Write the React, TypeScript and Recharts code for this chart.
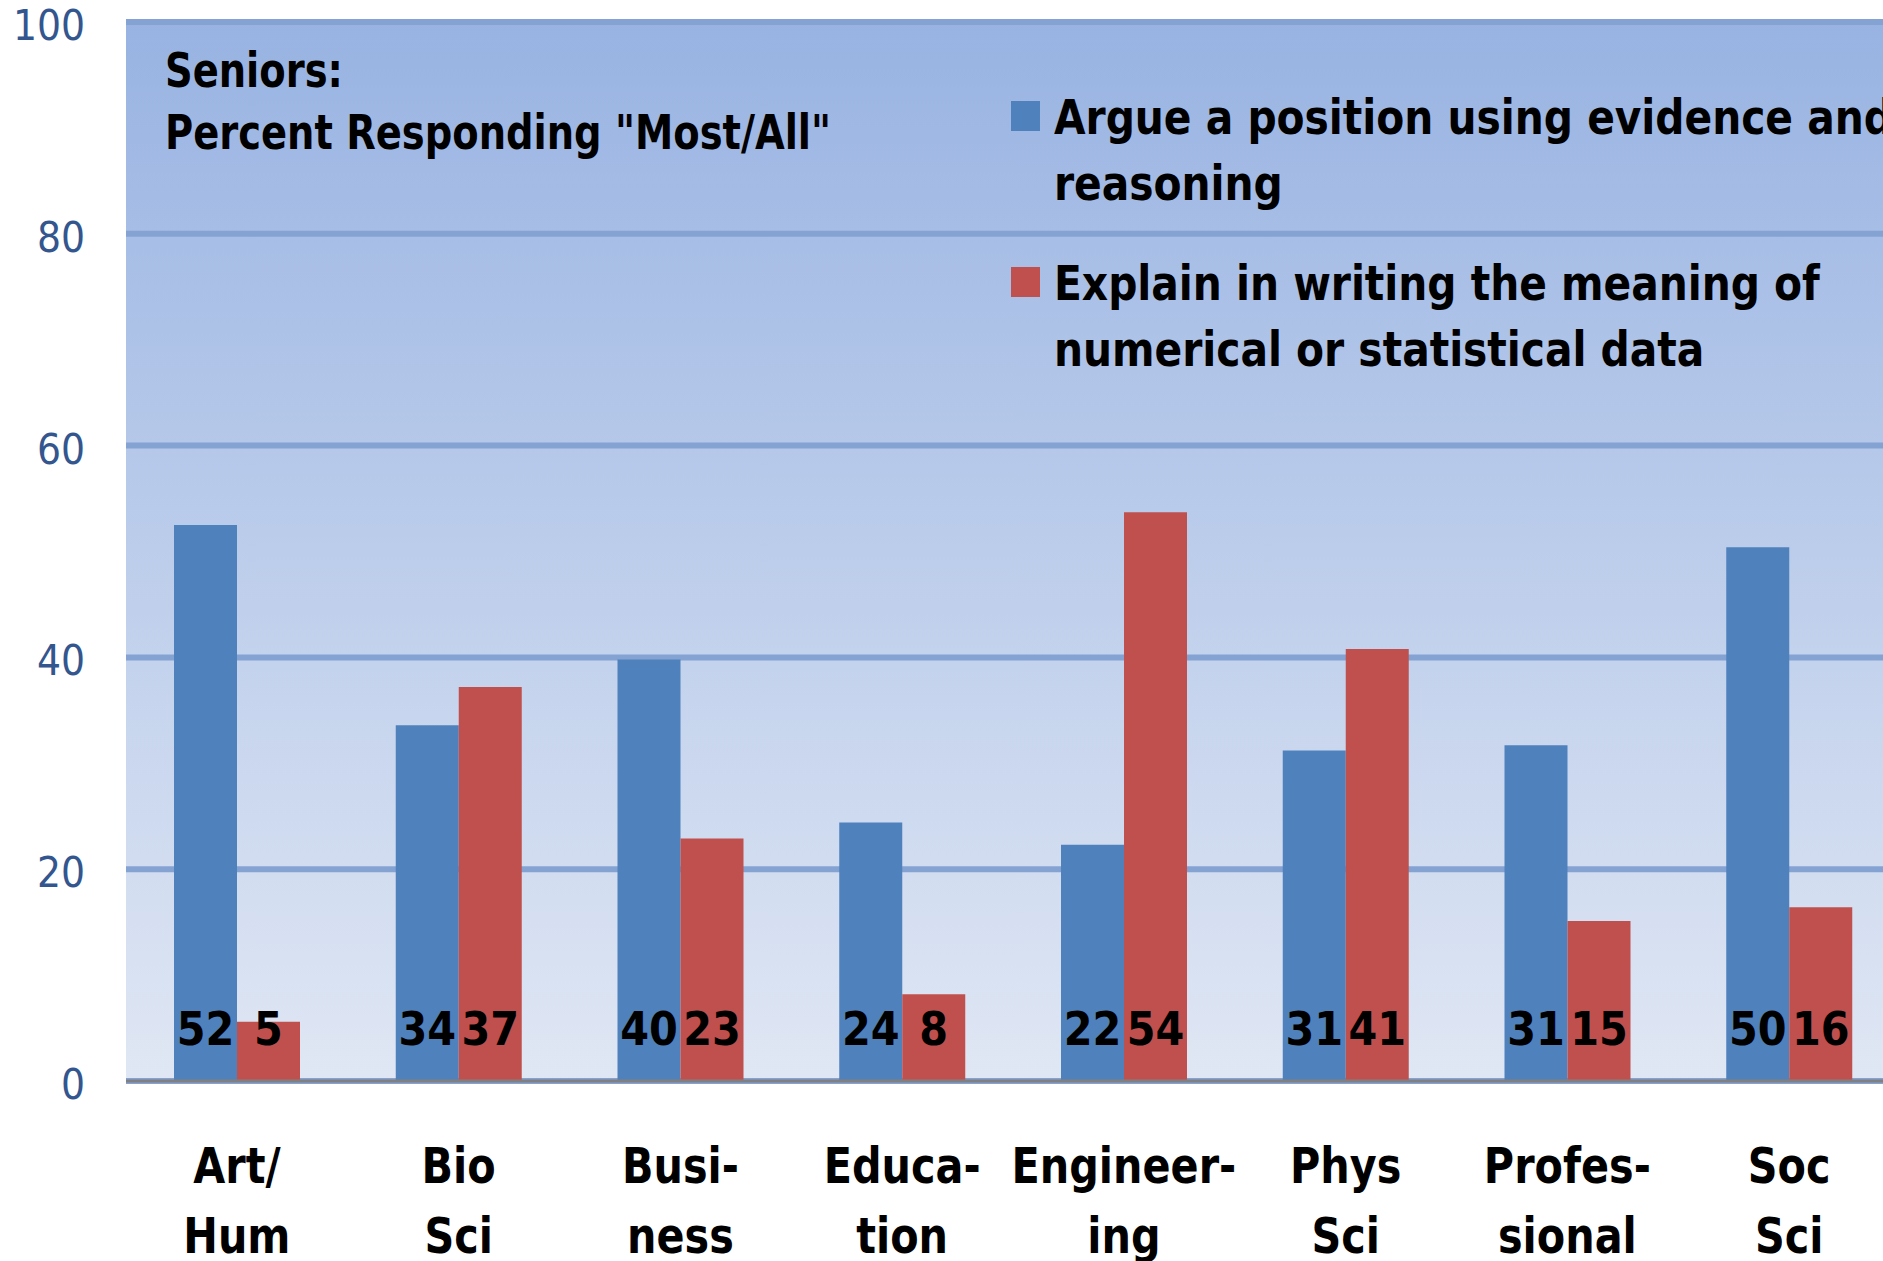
import React from "react";
import { BarChart, Bar, XAxis, YAxis, CartesianGrid } from "recharts";

const categories = ["Art/\nHum", "Bio\nSci", "Busi-\nness", "Educa-\ntion", "Engineer-\ning", "Phys\nSci", "Profes-\nsional", "Soc\nSci"];
const argueValues = [52.5, 33.6, 39.8, 24.4, 22.3, 31.2, 31.7, 50.4];
const explainValues = [5.6, 37.2, 22.9, 8.2, 53.7, 40.8, 15.1, 16.4];
const argueLabels = [52, 34, 40, 24, 22, 31, 31, 50];
const explainLabels = [5, 37, 23, 8, 54, 41, 15, 16];
const yTicks = [0, 20, 40, 60, 80, 100];
const titleLines = ["Seniors:", "Percent Responding \"Most/All\""];
const legendLines = [
  ["Argue a position using evidence and", "reasoning"],
  ["Explain in writing the meaning of", "numerical or statistical data"],
];

const BLUE = "#4f81bd";
const RED = "#c0504d";
const FONT = "'DejaVu Sans Condensed', 'DejaVu Sans', sans-serif";

const data = categories.map((c, i) => ({
  cat: c,
  argue: argueValues[i],
  explain: explainValues[i],
}));

const makeLabel = (labels: number[]) => (props: any) => {
  const { x, y, width, height, index } = props;
  return (
    <text
      x={x + width / 2}
      y={y + height - 36}
      textAnchor="middle"
      fontFamily={FONT}
      fontWeight="bold"
      fontSize={46}
      fill="#000"
    >
      {labels[index]}
    </text>
  );
};

const XTick = (props: any) => {
  const { x, y, payload } = props;
  const lines = String(payload.value).split("\n");
  return (
    <g>
      {lines.map((l, i) => (
        <g key={i} transform={`translate(${x} ${y + 96 + i * 70}) scale(0.92 1)`}>
          <text
            x={0}
            y={0}
            textAnchor="middle"
            fontFamily={FONT}
            fontWeight="bold"
            fontSize={50}
            fill="#000"
          >
            {l}
          </text>
        </g>
      ))}
    </g>
  );
};

const YTick = (props: any) => {
  const { x, y, payload } = props;
  return (
    <text
      x={x - 33}
      y={y}
      dy={18}
      textAnchor="end"
      fontFamily={FONT}
      fontSize={42}
      fill="#33568e"
    >
      {payload.value}
    </text>
  );
};

export default function App() {
  const colors = [BLUE, RED];
  return (
    <div
      style={{
        position: "fixed",
        left: 0,
        top: 0,
        width: 1883,
        height: 1261,
        overflow: "hidden",
        background: "#fff",
      }}
    >
      <BarChart
        width={1910}
        height={1261}
        data={data}
        margin={{ top: 22, right: 10, bottom: 0, left: 0 }}
        barGap={0}
        barSize={63}
      >
        <defs>
          <linearGradient id="plotBg" x1="0" y1="0" x2="0" y2="1">
            <stop offset="0%" stopColor="#98b3e2" />
            <stop offset="100%" stopColor="#e0e7f4" />
          </linearGradient>
        </defs>
        <CartesianGrid
          vertical={false}
          stroke="#84a3d3"
          strokeWidth={6}
          fill="url(#plotBg)"
          fillOpacity={1}
        />
        <XAxis
          dataKey="cat"
          height={180}
          tickLine={false}
          tickMargin={0}
          axisLine={{ stroke: "#808080", strokeWidth: 3 }}
          tick={<XTick />}
          interval={0}
        />
        <YAxis
          width={126}
          domain={[0, 100]}
          ticks={yTicks}
          tickLine={false}
          axisLine={false}
          tick={<YTick />}
          interval={0}
        />
        <Bar dataKey="argue" fill={BLUE} isAnimationActive={false} label={makeLabel(argueLabels)} />
        <Bar dataKey="explain" fill={RED} isAnimationActive={false} label={makeLabel(explainLabels)} />
      </BarChart>
      <div
        style={{
          position: "absolute",
          left: 165,
          top: 39,
          fontFamily: FONT,
          fontWeight: "bold",
          fontSize: 48,
          lineHeight: "62px",
          color: "#000",
          whiteSpace: "nowrap",
          transform: "scaleX(0.89)",
          transformOrigin: "0 0",
        }}
      >
        {titleLines.map((t, i) => (
          <div key={i}>{t}</div>
        ))}
      </div>
      <div
        style={{
          position: "absolute",
          left: 1011,
          top: 84,
          fontFamily: FONT,
          fontWeight: "bold",
          fontSize: 48,
          lineHeight: "66px",
          color: "#000",
          whiteSpace: "nowrap",
        }}
      >
        {legendLines.map((lines, i) => (
          <div key={i} style={{ position: "relative", marginBottom: 34 }}>
            <div
              style={{
                position: "absolute",
                left: 0,
                top: 17,
                width: 29,
                height: 30,
                background: colors[i],
              }}
            />
            <div style={{ marginLeft: 43, transform: "scaleX(0.944)", transformOrigin: "0 0" }}>
              {lines.map((l, j) => (
                <div key={j}>{l}</div>
              ))}
            </div>
          </div>
        ))}
      </div>
    </div>
  );
}
